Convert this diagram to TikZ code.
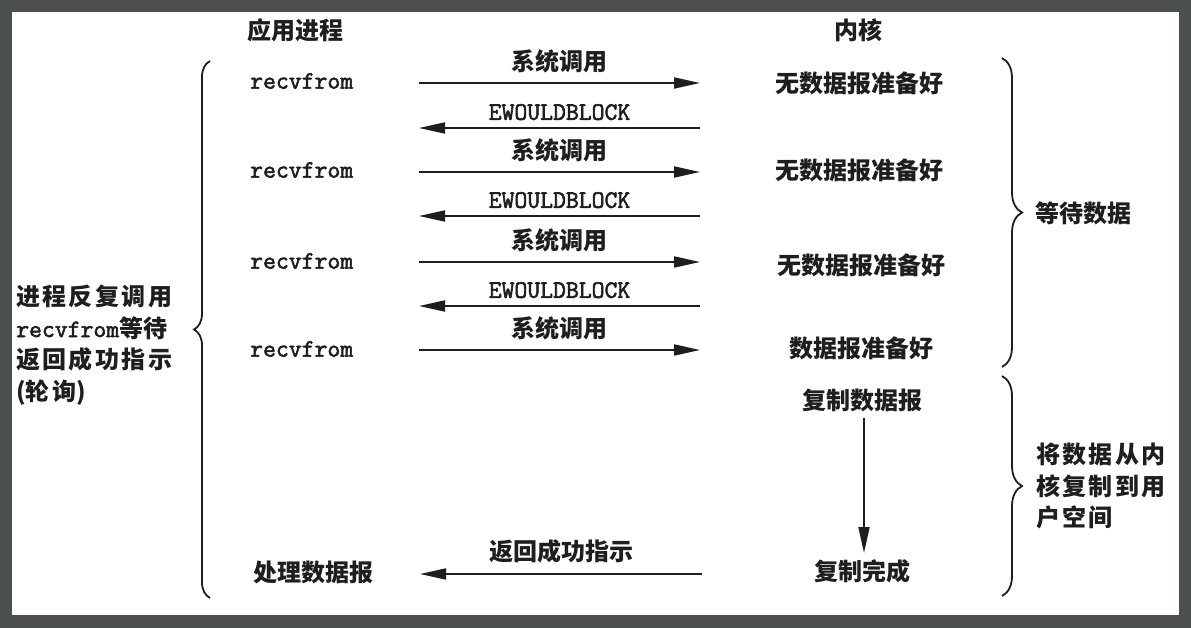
\documentclass[tikz,border=0pt]{standalone}
\usepackage{fontspec}
\usetikzlibrary{arrows.meta,decorations.pathreplacing}
\newfontfamily\cjk{Noto Sans CJK SC}
\newfontfamily\cjkwide{Noto Sans CJK SC}[LetterSpace=10]
\newfontfamily\ttheavy{Latin Modern Mono}[FakeBold=2.2]
\definecolor{framegray}{HTML}{4B4F4F}
\definecolor{ink}{HTML}{1E1E1E}

\begin{document}
\begin{tikzpicture}[x=1pt,y=-1pt,
  every node/.style={inner sep=0pt, text=ink},
  cn/.style={font=\cjk\bfseries\fontsize{24}{28}\selectfont},
  cnw/.style={font=\cjkwide\bfseries\fontsize{24}{31.5}\selectfont, align=left},
  tt/.style={font=\ttheavy\fontsize{25}{28}\selectfont},
  msg/.style={draw=ink, line width=1.8pt, -{Triangle[length=26pt,width=11pt]}},
  brc/.style={draw=ink, line width=1.8pt, decorate, decoration={brace, amplitude=#1}},
]
% frame and page
\fill[framegray] (0,0) rectangle (1191,628);
\fill[white] (12,12) rectangle (1179,615);
\useasboundingbox (0,0) rectangle (1191,628);

% column headings
\node[cn] (happ) at (295,30) {应用进程};
\node[cn] (hkern) at (858,30) {内核};

% application side
\node[tt, anchor=west] (r1) at (250,81) {recvfrom};
\node[tt, anchor=west] (r2) at (250,170) {recvfrom};
\node[tt, anchor=west] (r3) at (250,261) {recvfrom};
\node[tt, anchor=west] (r4) at (250,349) {recvfrom};
\node[cn] (proc) at (313,572) {处理数据报};

% kernel side
\node[cn] (k1) at (859,83) {无数据报准备好};
\node[cn] (k2) at (859,170) {无数据报准备好};
\node[cn] (k3) at (861,265) {无数据报准备好};
\node[cn] (k4) at (861,348) {数据报准备好};
\node[cn] (copy) at (862,400) {复制数据报};
\node[cn] (done) at (862,571) {复制完成};

% arrow end points
\coordinate (c1l) at (419,83);  \coordinate (c1r) at (700,83);
\coordinate (e1l) at (419,128); \coordinate (e1r) at (700,128);
\coordinate (c2l) at (419,172); \coordinate (c2r) at (700,172);
\coordinate (e2l) at (419,216); \coordinate (e2r) at (700,216);
\coordinate (c3l) at (419,262); \coordinate (c3r) at (700,262);
\coordinate (e3l) at (419,306); \coordinate (e3r) at (700,306);
\coordinate (c4l) at (419,350); \coordinate (c4r) at (700,350);
\coordinate (okl) at (420,574); \coordinate (okr) at (702,574);
\coordinate (cpt) at (864,418); \coordinate (cpb) at (864,553);

% system calls and replies
\draw[msg] (c1l) -- node[cn, midway, above=9pt] (s1) {系统调用} (c1r);
\draw[msg] (e1r) -- node[tt, midway, above=7pt] (w1) {EWOULDBLOCK} (e1l);
\draw[msg] (c2l) -- node[cn, midway, above=9pt] (s2) {系统调用} (c2r);
\draw[msg] (e2r) -- node[tt, midway, above=7pt] (w2) {EWOULDBLOCK} (e2l);
\draw[msg] (c3l) -- node[cn, midway, above=9pt] (s3) {系统调用} (c3r);
\draw[msg] (e3r) -- node[tt, midway, above=7pt] (w3) {EWOULDBLOCK} (e3l);
\draw[msg] (c4l) -- node[cn, midway, above=9pt] (s4) {系统调用} (c4r);
\draw[msg] (okr) -- node[cn, midway, above=10pt] (ok) {返回成功指示} (okl);

% copy from kernel to user space
\draw[msg] (cpt) -- (cpb);

% braces
\draw[brc=16pt] (210,598) -- (210,61);
\draw[brc=20pt] (1002,58) -- (1002,367);
\draw[brc=20pt] (1002,376) -- (1002,596);

% brace labels
\node[cnw, anchor=west] (poll) at (16,345)
  {进程反复调用\\{\ttheavy\fontsize{25}{28}\selectfont recvfrom}{\cjk\bfseries 等待}\\返回成功指示\\{\cjk(}轮询{\cjk)}};
\node[cn, anchor=west] (wait) at (1035,213) {等待数据};
\node[cnw, anchor=west] (copydesc) at (1036,486) {将数据从内\\核复制到用\\户空间};
\end{tikzpicture}
\end{document}
